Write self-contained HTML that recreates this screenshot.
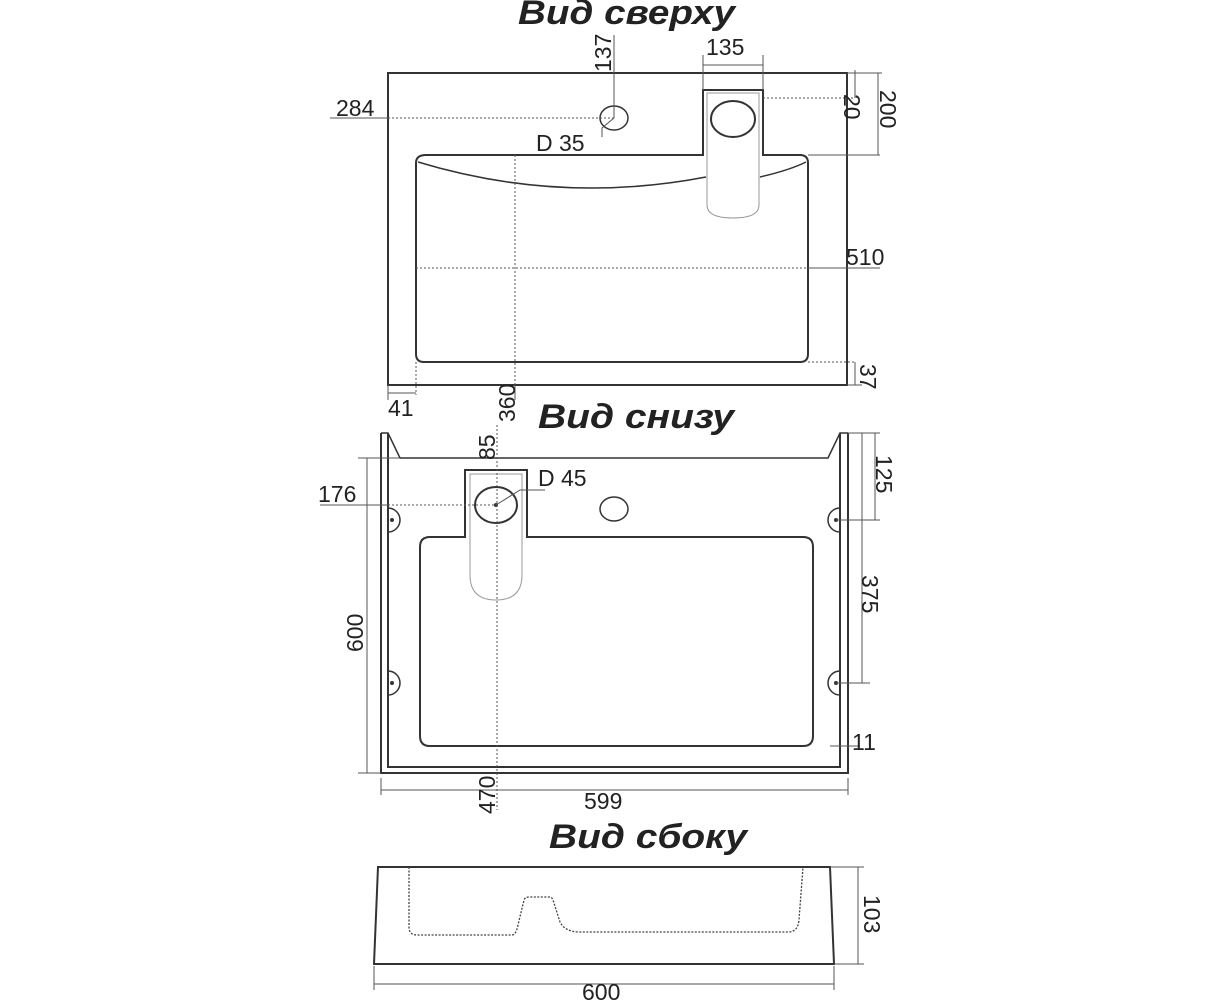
<!DOCTYPE html>
<html><head><meta charset="utf-8"><style>
html,body{margin:0;padding:0;background:#fff}
svg{display:block}
text{font-family:"Liberation Sans",sans-serif;fill:#222}
.t{font-weight:bold;font-style:italic;font-size:34px}
.d{font-size:23px}
</style></head><body>
<svg width="1223" height="1000" viewBox="0 0 1223 1000" xmlns="http://www.w3.org/2000/svg">
<g fill="none" stroke="#333" stroke-width="2">
<!-- TOP VIEW -->
<rect x="388" y="73" width="459" height="312"/>
<path d="M426,155 H703 V90 H763 V155 H800 Q808,155 808,163 V354 Q808,362 800,362 H424 Q416,362 416,354 V163 Q416,155 426,155 Z"/>
<path d="M418,162 Q560,205 706,177" stroke-width="1.5"/>
<path d="M760,177 Q790,170 806,162" stroke-width="1.5"/>
<path d="M707,93 H759 V205 Q759,218 733,218 Q707,218 707,205 Z" stroke="#999" stroke-width="1"/>
<ellipse cx="733" cy="119" rx="22" ry="18"/>
<ellipse cx="614" cy="118" rx="14" ry="12" stroke-width="1.5"/>
</g>
<g fill="none" stroke="#555" stroke-width="1">
<path d="M614,73 V118 M330,118 H388" />
<path d="M388,118 H614 M515,155 V385 M416,268 H808 M416,362 V395 M763,98 H855 M808,362 H855" stroke-dasharray="2,2"/>
<path d="M614,35 V73 M703,55 V90 M763,55 V90 M703,65 H763 M808,268 H880 M855,70 V98 M878,73 V155 M808,155 H880 M855,362 V385 M388,393 H416 M388,385 V400 M515,385 V400 M614,118 L602,128 V137 M847,73 H882 M847,385 H862"/>
</g>
<text class="t" x="518" y="24" textLength="217" lengthAdjust="spacingAndGlyphs">Вид сверху</text>
<text class="d" x="706" y="55">135</text>
<text class="d" transform="translate(611,72) rotate(-90)">137</text>
<text class="d" x="336" y="116">284</text>
<text class="d" x="536" y="151">D 35</text>
<text class="d" transform="translate(844,94) rotate(90)">20</text>
<text class="d" transform="translate(880,90) rotate(90)">200</text>
<text class="d" x="846" y="265">510</text>
<text class="d" transform="translate(860,364) rotate(90)">37</text>
<text class="d" x="388" y="416">41</text>
<text class="d" transform="translate(515,422) rotate(-90)">360</text>

<!-- BOTTOM VIEW -->
<text class="t" x="538" y="428" textLength="196" lengthAdjust="spacingAndGlyphs">Вид снизу</text>
<g fill="none" stroke="#333" stroke-width="2">
<path d="M381,433 V773 H848 V433"/>
<path d="M388,433 V767 H840 V433"/>
<path d="M381,433 H388 L400,458 H828 L840,433 H848" stroke-width="1.5"/>
<path d="M430,537 H465 V470 H527 V537 H803 Q813,537 813,547 V736 Q813,746 803,746 H430 Q420,746 420,736 V547 Q420,537 430,537 Z"/>
<path d="M470,474 H522 V575 Q522,600 496,600 Q470,600 470,575 Z" stroke="#999" stroke-width="1"/>
<ellipse cx="496" cy="505" rx="21" ry="18"/>
<ellipse cx="614" cy="509" rx="14" ry="12" stroke-width="1.5"/>
<path d="M388,508 A12,12 0 0 1 388,532 M388,671 A12,12 0 0 1 388,695 M840,508 A12,12 0 0 0 840,532 M840,671 A12,12 0 0 0 840,695" stroke-width="1.5"/>
</g>
<g fill="#333"><circle cx="392" cy="520" r="2"/><circle cx="392" cy="683" r="2"/><circle cx="836" cy="520" r="2"/><circle cx="836" cy="683" r="2"/><circle cx="496" cy="505" r="2"/></g>
<g fill="none" stroke="#555" stroke-width="1">
<path d="M497,425 V810 M388,505 H496" stroke-dasharray="2,2"/>
<path d="M320,505 H388 M496,505 L520,490 H545 M358,458 H400 M358,773 H381 M367,458 V773 M848,433 H880 M836,520 H880 M875,433 V520 M862,433 V683 M836,683 H870 M830,746 H860 M381,778 V795 M848,778 V795 M381,790 H848"/>
</g>
<text class="d" x="538" y="486">D 45</text>
<text class="d" transform="translate(495,460) rotate(-90)">85</text>
<text class="d" x="318" y="502">176</text>
<text class="d" transform="translate(363,652) rotate(-90)">600</text>
<text class="d" transform="translate(876,455) rotate(90)">125</text>
<text class="d" transform="translate(862,575) rotate(90)">375</text>
<text class="d" x="852" y="750">11</text>
<text class="d" transform="translate(495,814) rotate(-90)">470</text>
<text class="d" x="584" y="809">599</text>

<!-- SIDE VIEW -->
<text class="t" x="549" y="848" textLength="198" lengthAdjust="spacingAndGlyphs">Вид сбоку</text>
<g fill="none" stroke="#333" stroke-width="2">
<path d="M378,867 H830 L834,964 H374 Z"/>
</g>
<path d="M409,867 V927 Q409,935 417,935 H512 Q516,935 518,925 L524,900 Q525,897 529,897 H549 Q552,897 553,900 L560,922 Q565,932 580,932 H788 Q798,932 799,920 L803,867" fill="none" stroke="#444" stroke-width="1.3" stroke-dasharray="2,1.5"/>
<g fill="none" stroke="#555" stroke-width="1">
<path d="M830,867 H864 M834,964 H864 M858,867 V964 M374,966 V990 M834,966 V990 M374,984 H834"/>
</g>
<text class="d" transform="translate(864,895) rotate(90)">103</text>
<text class="d" x="582" y="1000">600</text>
</svg>
</body></html>
